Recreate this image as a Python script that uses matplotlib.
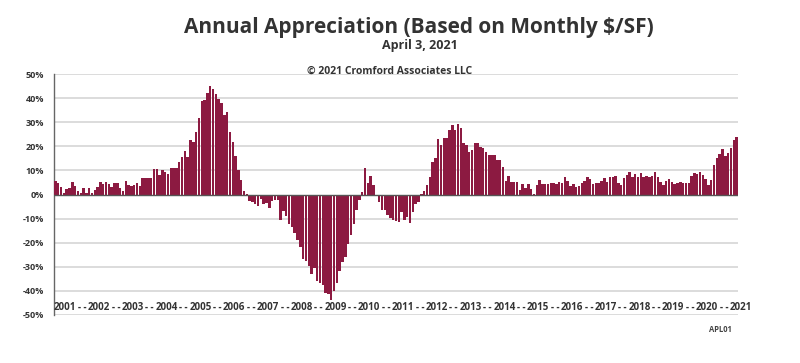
import matplotlib
matplotlib.use("Agg")
import matplotlib.pyplot as plt
import numpy as np

# Monthly annual appreciation (%), Jan 2001 .. Mar 2021
values = [
    # 2001
    5.6, 4.9, 3.1, 0.7, 2.1, 2.8, 5.1, 3.6, 1.4, 0.7, 2.5, 0.8,
    # 2002
    2.5, 0.8, 1.8, 3.2, 5.1, 4.4, 5.0, 4.3, 3.2, 4.7, 4.7, 2.6,
    # 2003
    1.4, 5.8, 4.0, 3.6, 4.0, 4.9, 3.5, 6.7, 6.8, 6.9, 6.7, 10.4,
    # 2004
    10.4, 8.2, 10.2, 9.5, 8.5, 11.1, 11.0, 11.0, 13.6, 15.4, 17.9, 15.5,
    # 2005
    22.6, 21.8, 25.8, 31.7, 38.6, 39.3, 42.3, 45.2, 43.8, 41.7, 39.6, 37.8,
    # 2006
    32.8, 34.3, 26.0, 21.8, 16.0, 10.0, 5.9, 1.6, 0.2, -2.6, -3.1, -3.8,
    # 2007
    -4.7, -2.0, -4.0, -3.5, -5.4, -2.6, -2.4, -2.4, -10.4, -6.8, -9.0, -12.1,
    # 2008
    -13.3, -16.0, -19.0, -21.9, -26.7, -27.5, -29.6, -33.0, -30.5, -35.7, -36.8, -37.4,
    # 2009
    -41.0, -41.3, -43.8, -40.1, -36.8, -31.9, -28.1, -26.0, -20.4, -16.9, -12.1, -6.5,
    # 2010
    -2.1, 1.1, 10.8, 4.6, 7.6, 3.9, -0.3, -3.3, -6.5, -6.3, -8.6, -9.6,
    # 2011
    -10.4, -11.0, -11.4, -7.2, -10.4, -9.3, -11.7, -7.2, -3.8, -3.1, 0.4, 1.4,
    # 2012
    3.9, 7.1, 13.6, 15.0, 23.1, 20.6, 23.3, 23.3, 26.8, 28.9, 26.8, 29.2,
    # 2013
    27.5, 21.3, 20.6, 17.8, 18.5, 21.3, 21.3, 19.6, 19.2, 17.5, 16.4, 16.4,
    # 2014
    16.3, 14.2, 14.2, 11.4, 5.8, 7.5, 5.3, 5.3, 5.3, 1.9, 4.2, 2.8,
    # 2015
    4.4, 2.2, 0.3, 3.8, 6.1, 4.4, 4.4, 4.5, 4.6, 4.6, 4.3, 5.3,
    # 2016
    4.9, 7.4, 5.7, 3.5, 4.2, 3.2, 3.6, 4.6, 5.7, 7.4, 6.3, 4.3,
    # 2017
    4.9, 4.6, 5.7, 6.7, 5.3, 7.4, 7.4, 7.6, 4.9, 3.9, 6.7, 8.1,
    # 2018
    9.4, 7.4, 8.5, 7.4, 8.8, 7.4, 7.8, 7.4, 7.6, 9.4, 7.1, 5.0,
    # 2019
    3.9, 5.7, 6.3, 5.3, 4.3, 4.9, 5.3, 4.6, 4.9, 4.9, 7.6, 8.8,
    # 2020
    8.3, 9.4, 8.1, 6.3, 3.9, 6.0, 12.2, 15.0, 16.7, 18.8, 16.0, 17.1,
    # 2021
    19.2, 22.6, 24.0,
]

year_labels = [str(y) for y in range(2001, 2022)]
ytick_values = [50, 40, 30, 20, 10, 0, -10, -20, -30, -40, -50]
ytick_labels = [f"{v}%" for v in ytick_values]

title = "Annual Appreciation (Based on Monthly $/SF)"
subtitle = "April 3, 2021"
copyright_text = "\u00a9 2021 Cromford Associates LLC"
code_text = "APL01"

bar_color = "#8c1a41"
text_color = "#333333"
grid_color = "#dcdcdc"
font = ["Open Sans", "DejaVu Sans"]

fig = plt.figure(figsize=(8.0, 3.63), dpi=100)
ax = fig.add_axes([54 / 800, 1 - 315 / 363, (738 - 54) / 800, (315 - 74) / 363])

n = len(values)
x = np.arange(n)
ax.bar(x, values, width=0.88, color=bar_color, linewidth=0, zorder=3)

ax.set_xlim(-0.5, n - 0.5)
ax.set_ylim(-50, 50)
ax.set_yticks(ytick_values)
ax.set_yticklabels(ytick_labels)
for lab in ax.get_yticklabels():
    lab.set_fontfamily(font)
    lab.set_fontweight("bold")
    lab.set_fontsize(6.5)
    lab.set_color(text_color)
ax.tick_params(axis="y", length=0, pad=7)
ax.set_xticks([])

for v in ytick_values:
    if v != 0:
        ax.axhline(v, color=grid_color, lw=1.4, zorder=1)
ax.axhline(0, color="#555555", lw=1.0, zorder=4)

for s in ["top", "right", "bottom"]:
    ax.spines[s].set_visible(False)
ax.spines["left"].set_color("#666666")
ax.spines["left"].set_linewidth(1.0)

# year labels along the bottom with dash separators
label_pos = [12 * k + 3.5 for k in range(len(year_labels))]
for p, lab in zip(label_pos, year_labels):
    ax.text(p, -47, lab, ha="center", va="center", fontsize=7,
            fontweight="bold", color=text_color, family=font, clip_on=False, zorder=5)
for a, b in zip(label_pos[:-1], label_pos[1:]):
    ax.text((a + b) / 2, -47, "- -", ha="center", va="center", fontsize=7,
            fontweight="bold", color=text_color, family=font, clip_on=False, zorder=5)

fig.text(419 / 800, 1 - 27 / 363, title, ha="center", va="center", fontsize=15,
         fontweight="bold", color=text_color, family=font)
fig.text(420 / 800, 1 - 45 / 363, subtitle, ha="center", va="center", fontsize=9,
         fontweight="bold", color=text_color, family=font)
fig.text(390 / 800, 1 - 71 / 363, copyright_text, ha="center", va="center", fontsize=7.5,
         fontweight="bold", color=text_color, family=font)
fig.text(720 / 800, 1 - 330 / 363, code_text, ha="center", va="center", fontsize=5.5,
         fontweight="bold", color="#444444", family=font)

fig.savefig("out.png", dpi=100)
